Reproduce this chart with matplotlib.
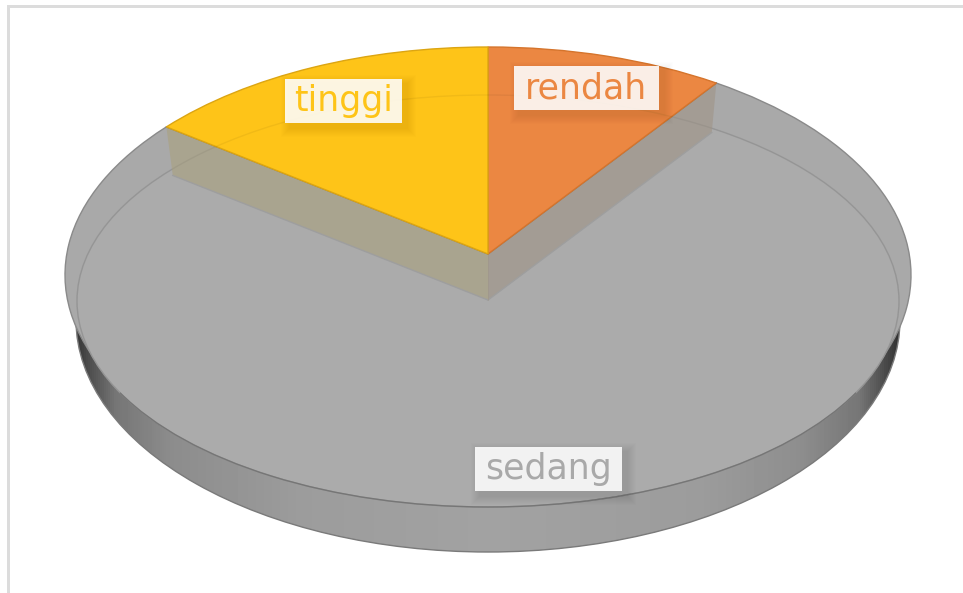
import numpy as np
import matplotlib
matplotlib.use('Agg')
from matplotlib import pyplot as plt
from matplotlib.patches import Arc, Ellipse, Polygon, Rectangle
from matplotlib.transforms import Transform

labels = ['rendah', 'sedang', 'tinggi']
values = [9.9, 75.2, 14.9]
colors = ['#eb8742', '#a9a9a9', '#fec418']
edge_colors = ['#d5742c', '#8a8a8a', '#dca512']
text_colors = ['#eb8742', '#a9a9a9', '#fec418']
wall_colors = ['#a39c94', '#a9a48f']


class Tilt(Transform):
    # perspective view of the unit circle, gives pixel coords
    input_dims = 2
    output_dims = 2
    is_separable = False

    def __init__(self, cx, width, top, bottom, apex):
        super().__init__()
        self.cx = cx
        self.apex = apex
        self.k = (top + bottom - 2 * apex) / (bottom - top)
        self.d = top * (1 + self.k) - apex
        self.width = width * np.sqrt(1 - self.k ** 2)

    def transform_non_affine(self, values):
        xy = np.asarray(values, dtype=float)
        w = 1 + self.k * xy[:, 1]
        return np.column_stack([self.cx + self.width * xy[:, 0] / w,
                                (self.apex + self.d * xy[:, 1]) / w])


fig = plt.figure(figsize=(9.63, 5.93), dpi=100)
ax = fig.add_axes([0, 0, 1, 1])

# frame left over from the screenshot
ax.add_patch(Rectangle((7, 5), 3, 600, fc='#dcdcdc', ec='none', zorder=0))
ax.add_patch(Rectangle((7, 5), 960, 2.5, fc='#dcdcdc', ec='none', zorder=0))

# outer side of the disc
xs = np.linspace(60, 920, 430)
shade = np.interp(xs, [76, 90, 115, 170, 300, 488, 700, 800, 860, 880, 900],
                  [55, 80, 118, 140, 156, 162, 156, 142, 118, 85, 50])
side_clip = Ellipse((488, 320), 824, 464, fc='none', ec='#7a7a7a', lw=1, zorder=1.5)
ax.add_patch(side_clip)
img = ax.imshow(shade[None, :], cmap='gray', vmin=0, vmax=255, aspect='auto',
                extent=(60, 920, 560, 300), zorder=1)
img.set_clip_path(side_clip)

# top rim of the disc, built by the pie
rim = Tilt(488, 423, 47, 503, 254)
wedges, _ = ax.pie(values, colors=colors, startangle=90, counterclock=False,
                   wedgeprops={'linewidth': 1})
for i in range(3):
    wedges[i].set_transform(rim + ax.transData)
    wedges[i].set_edgecolor(edge_colors[i])
    wedges[i].set_zorder(5 if i != 1 else 2)

# sunken floor of the big slice
floor_c = (488, 301)
ax.add_patch(Ellipse(floor_c, 822, 412, fc='#ababab', ec='#9e9e9e', lw=1, zorder=3))

# walls under the two small slices
frac = np.cumsum(values) / np.sum(values)
angles = np.radians([90 - 360 * frac[0], 90 - 360 * frac[1]])
rim_apex = np.array([488.0, 254.0])
floor_apex = np.array([488.0, 300.0])
for i in range(2):
    p = rim.transform_non_affine(np.array([[np.cos(angles[i]), np.sin(angles[i])]]))[0]
    corner = floor_apex + 0.98 * (p - rim_apex)
    ax.add_patch(Polygon([rim_apex, p, corner, floor_apex], fc=wall_colors[i],
                         ec='none', zorder=4))
    ax.plot([floor_apex[0], corner[0]], [floor_apex[1], corner[1]], color='#9e9e9e',
            lw=1, zorder=4.1)
    ax.plot([p[0], rim_apex[0]], [p[1], rim_apex[1]], color='#807c72', lw=1, zorder=4.1)
ax.add_patch(Rectangle((488, 254), 0, 46, ec='#a0988c', lw=0.6, zorder=4.1))

# faint back of the floor seen through the slices, darker front edge
ax.add_patch(Ellipse(floor_c, 822, 412, fc='none', ec=(0, 0, 0, 0.05), lw=1, zorder=5.5))
ax.add_patch(Arc(floor_c, 822, 412, theta1=14, theta2=166, ec='#767676', lw=1, zorder=5.5))

# data labels
boxes = [(514, 66, 145, 44), (475, 447, 147, 44), (285, 79, 117, 44)]
for i in range(3):
    x, y, w, h = boxes[i]
    for grow in range(9, 0, -1):
        ax.add_patch(Rectangle((x + 5 - grow, y + 5 - grow), w + 2 * grow, h + 2 * grow,
                               fc=(0, 0, 0, 0.008), ec='none', zorder=6))
    ax.add_patch(Rectangle((x, y), w, h, fc=(1, 1, 1, 0.88), ec='none', zorder=6.5))
    ax.text(x + w / 2, y + 32.5, labels[i], color=text_colors[i], family='DejaVu Sans',
            fontsize=25, ha='center', va='baseline', zorder=7)

ax.set_aspect('auto')
ax.set_xlim(0, 963)
ax.set_ylim(593, 0)
ax.axis('off')

fig.savefig('out.png', dpi=100, facecolor='white')
